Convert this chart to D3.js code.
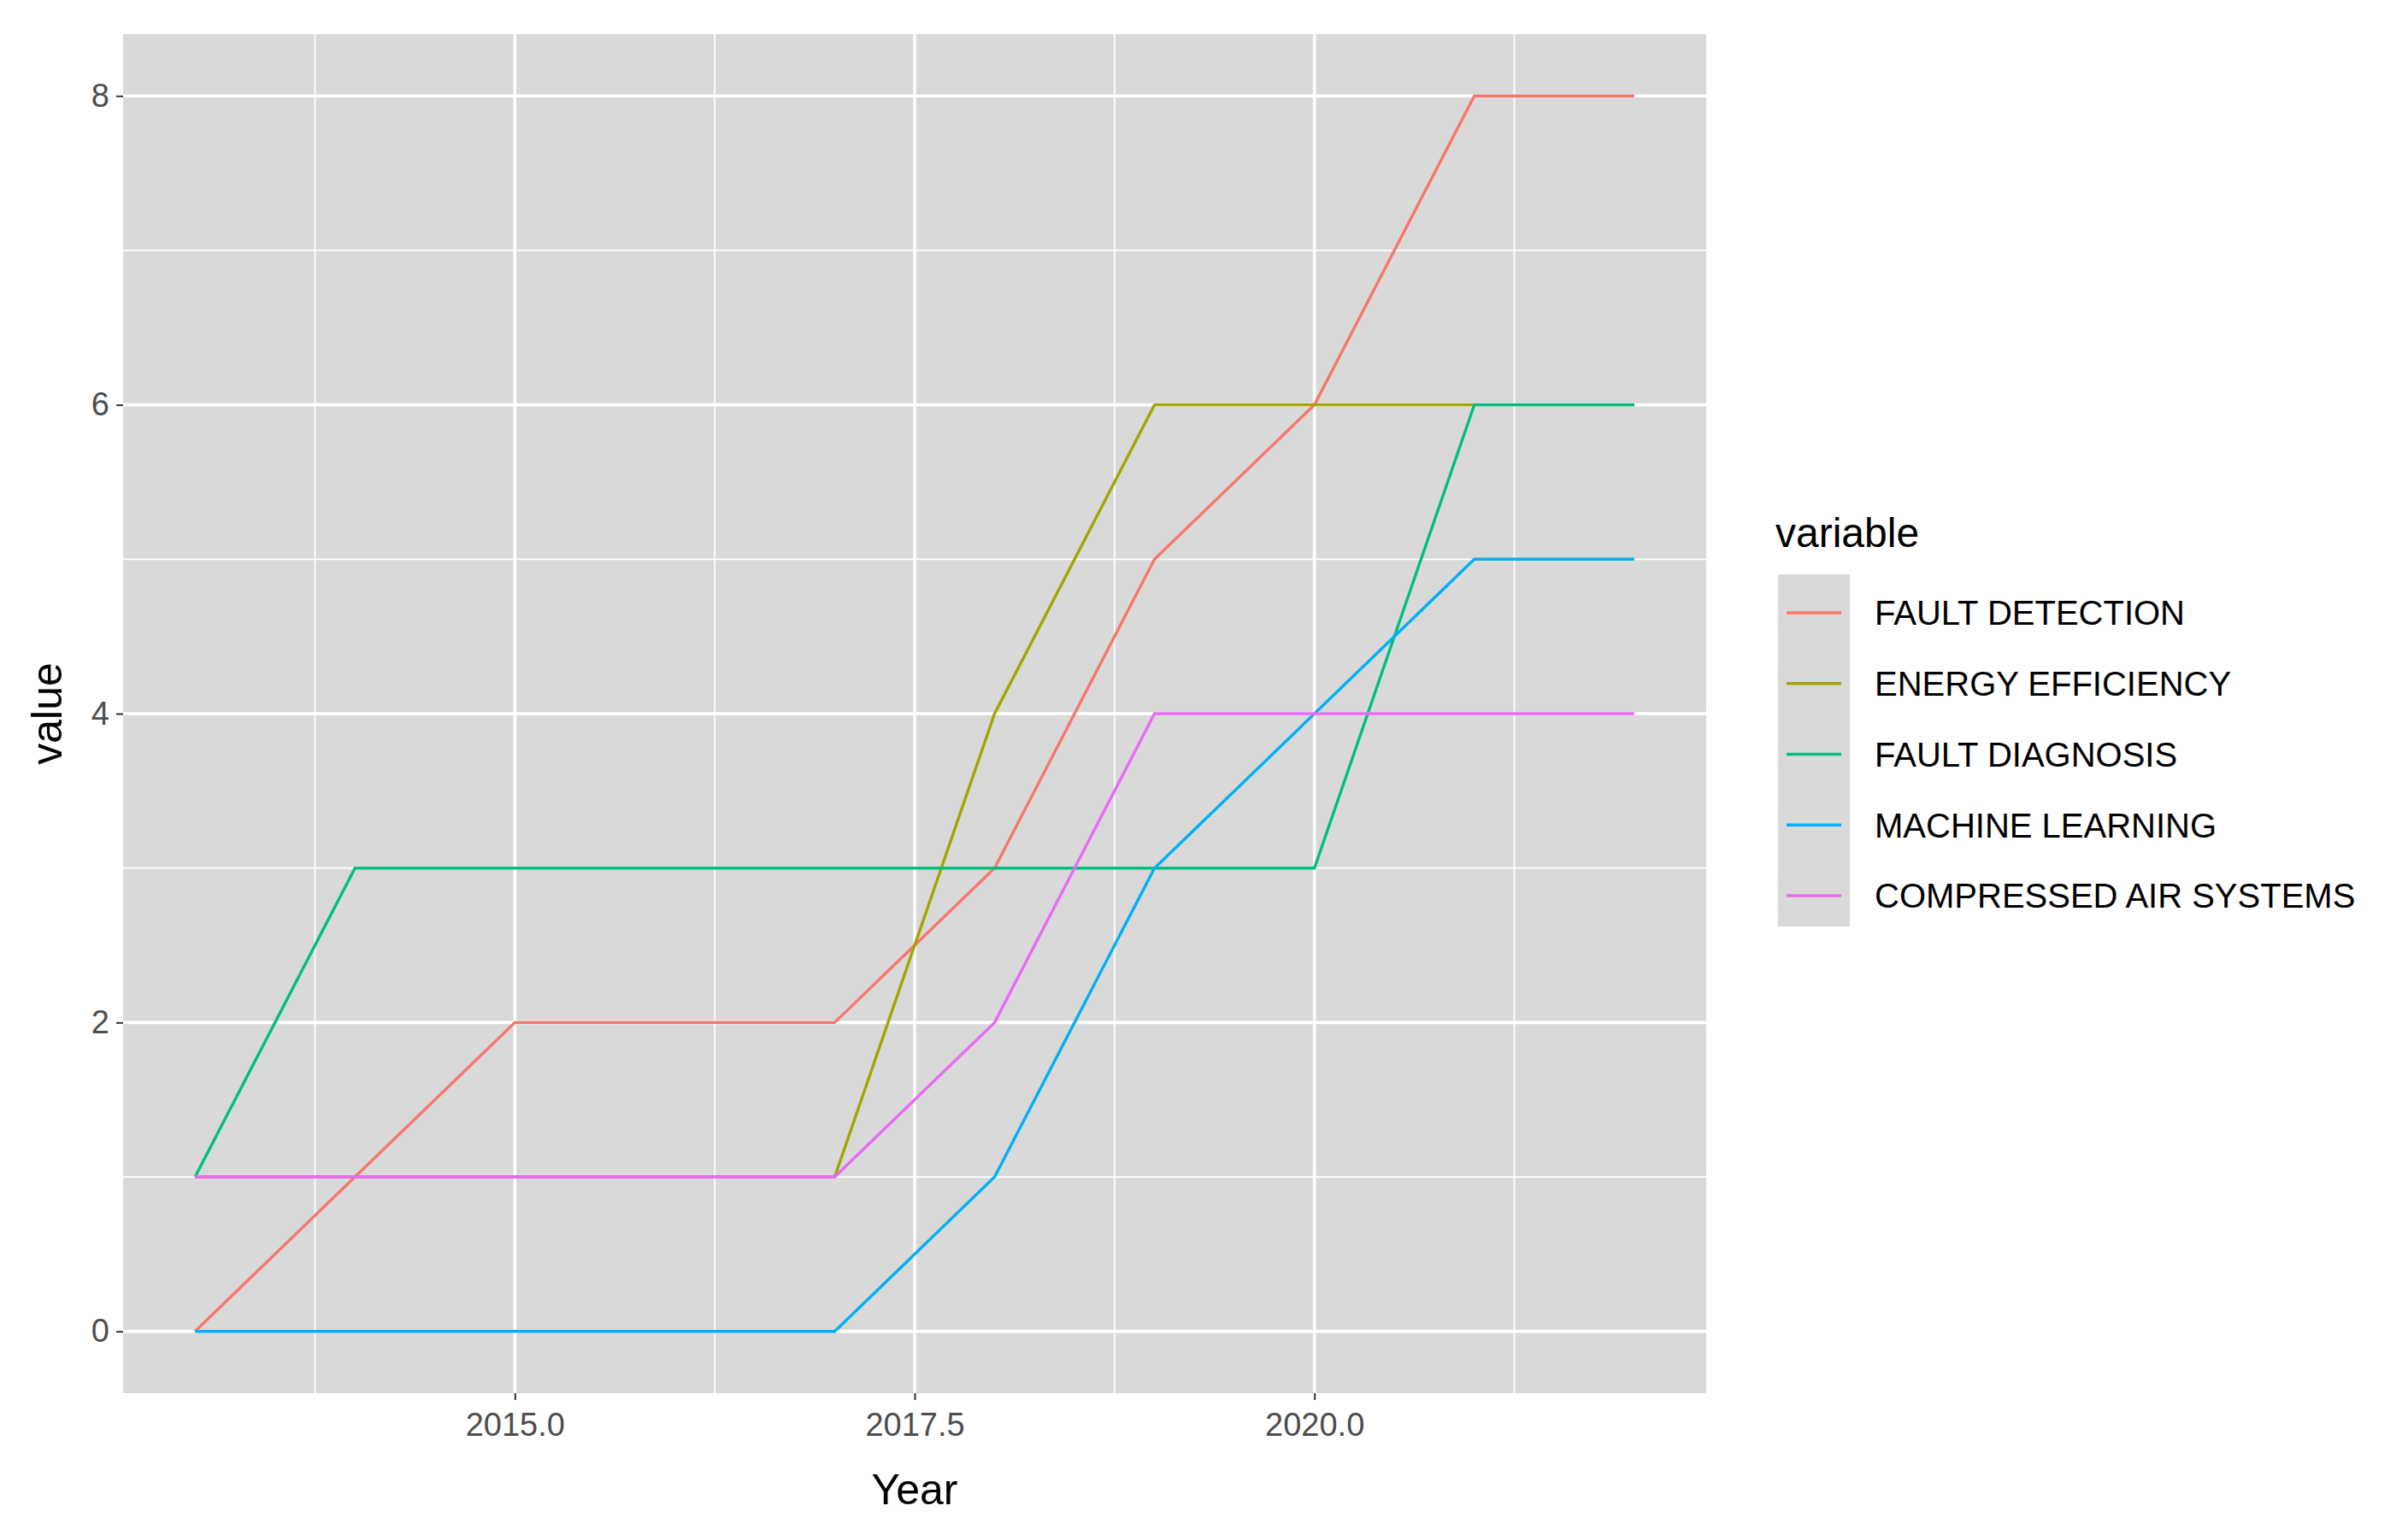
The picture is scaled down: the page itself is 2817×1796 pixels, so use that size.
<!DOCTYPE html>
<html>
<head>
<meta charset="utf-8">
<script src="https://cdn.jsdelivr.net/npm/d3@7"></script>
<style>
  body { margin: 0; background: #fff; }
  text { font-family: "Liberation Sans", Arial, sans-serif; }
</style>
</head>
<body>
<svg id="chart" width="2817" height="1796"></svg>
<script>
const years = [2013, 2014, 2015, 2016, 2017, 2018, 2019, 2020, 2021, 2022];
const seriesNames = ["FAULT DETECTION", "ENERGY EFFICIENCY", "FAULT DIAGNOSIS", "MACHINE LEARNING", "COMPRESSED AIR SYSTEMS"];
const faultDetection = [0, 1, 2, 2, 2, 3, 5, 6, 8, 8];
const energyEfficiency = [1, 1, 1, 1, 1, 4, 6, 6, 6, 6];
const faultDiagnosis = [1, 3, 3, 3, 3, 3, 3, 3, 6, 6];
const machineLearning = [0, 0, 0, 0, 0, 1, 3, 4, 5, 5];
const compressedAir = [1, 1, 1, 1, 1, 2, 4, 4, 4, 4];
const colors = ["#F8766D", "#A3A500", "#00BF7D", "#00B0F6", "#E76BF3"];
const xTicks = [2015, 2017.5, 2020];
const yTicks = [0, 2, 4, 6, 8];

const values = [faultDetection, energyEfficiency, faultDiagnosis, machineLearning, compressedAir];

const svg = d3.select("#chart");
const panel = { left: 144, right: 1996, top: 40, bottom: 1630 };

const x = d3.scaleLinear().domain([2012.55, 2022.45]).range([panel.left, panel.right]);
const y = d3.scaleLinear().domain([-0.4, 8.4]).range([panel.bottom, panel.top]);

svg.append("rect")
  .attr("x", panel.left).attr("y", panel.top)
  .attr("width", panel.right - panel.left).attr("height", panel.bottom - panel.top)
  .attr("fill", "#D9D9D9");

// minor grid
const xMinor = [2013.75, 2016.25, 2018.75, 2021.25];
const yMinor = [1, 3, 5, 7];
svg.selectAll(".xminor").data(xMinor).join("line")
  .attr("x1", d => x(d)).attr("x2", d => x(d))
  .attr("y1", panel.top).attr("y2", panel.bottom)
  .attr("stroke", "#fff").attr("stroke-width", 1.8);
svg.selectAll(".yminor").data(yMinor).join("line")
  .attr("y1", d => y(d)).attr("y2", d => y(d))
  .attr("x1", panel.left).attr("x2", panel.right)
  .attr("stroke", "#fff").attr("stroke-width", 1.8);
// major grid
svg.selectAll(".xmajor").data(xTicks).join("line")
  .attr("x1", d => x(d)).attr("x2", d => x(d))
  .attr("y1", panel.top).attr("y2", panel.bottom)
  .attr("stroke", "#fff").attr("stroke-width", 3.6);
svg.selectAll(".ymajor").data(yTicks).join("line")
  .attr("y1", d => y(d)).attr("y2", d => y(d))
  .attr("x1", panel.left).attr("x2", panel.right)
  .attr("stroke", "#fff").attr("stroke-width", 3.6);

// axes
const xAxis = svg.append("g")
  .attr("transform", `translate(0,${panel.bottom})`)
  .call(d3.axisBottom(x).tickValues(xTicks).tickFormat(d3.format(".1f")).tickSizeOuter(0).tickSize(8).tickPadding(8));
const yAxis = svg.append("g")
  .attr("transform", `translate(${panel.left},0)`)
  .call(d3.axisLeft(y).tickValues(yTicks).tickSizeOuter(0).tickSize(8).tickPadding(8));
[xAxis, yAxis].forEach(a => {
  a.select(".domain").remove();
  a.selectAll(".tick line").attr("stroke", "#333").attr("stroke-width", 2);
  a.selectAll("text").attr("fill", "#4D4D4D").attr("font-size", 38)
    .attr("font-family", "Liberation Sans, Arial, sans-serif");
});
xAxis.selectAll("text").attr("dy", "0.9em");

svg.append("text").attr("x", (panel.left + panel.right) / 2).attr("y", 1760)
  .attr("text-anchor", "middle").attr("font-size", 50).text("Year");
svg.append("text").attr("transform", `translate(72,${(panel.top + panel.bottom) / 2}) rotate(-90)`)
  .attr("text-anchor", "middle").attr("font-size", 50).text("value");

// lines
const line = d3.line().x((d, i) => x(years[i])).y(d => y(d));
svg.selectAll(".series").data(values).join("path")
  .attr("d", d => line(d))
  .attr("fill", "none")
  .attr("stroke", (d, i) => colors[i])
  .attr("stroke-width", 3.4);

// legend
svg.append("text").attr("x", 2077).attr("y", 640).attr("font-size", 48).text("variable");
svg.append("rect").attr("x", 2080).attr("y", 672).attr("width", 84).attr("height", 412).attr("fill", "#D9D9D9");
const legendY = d3.scalePoint().domain(seriesNames).range([717, 1048]);
seriesNames.forEach((name, i) => {
  svg.append("line").attr("x1", 2090).attr("x2", 2154)
    .attr("y1", legendY(name)).attr("y2", legendY(name))
    .attr("stroke", colors[i]).attr("stroke-width", 3.4);
  svg.append("text").attr("x", 2193).attr("y", legendY(name)).attr("dy", "0.36em")
    .attr("font-size", 40).attr("fill", "#000").text(name);
});
</script>
</body>
</html>
